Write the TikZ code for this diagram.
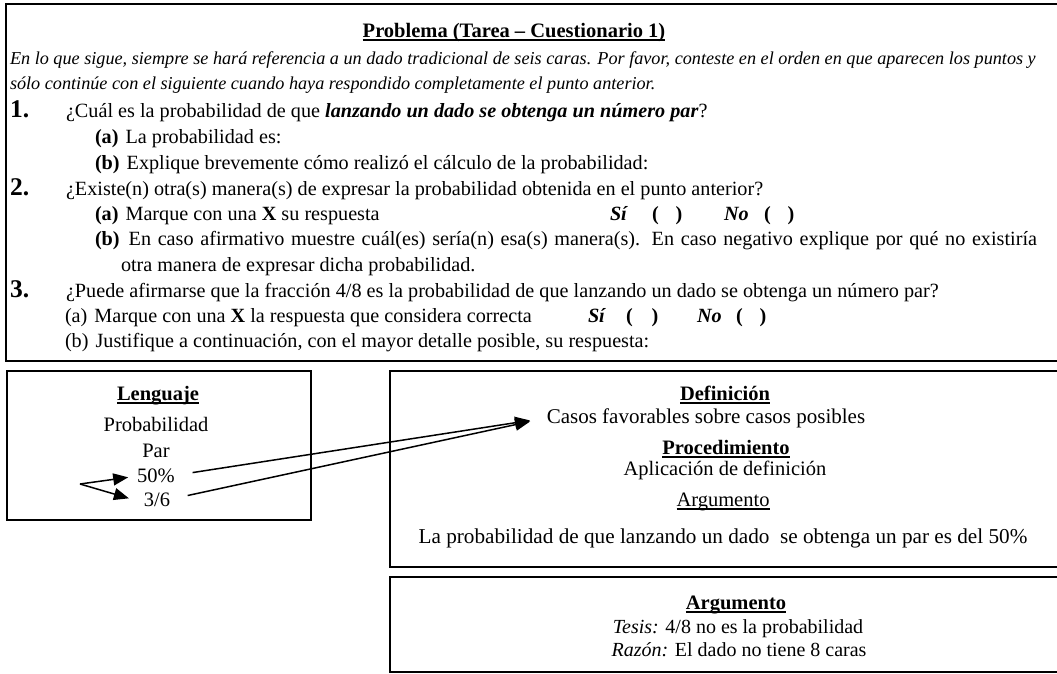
\documentclass[tikz,border=0pt]{standalone}
\usepackage{fontspec}
\setmainfont{Liberation Serif}
\usetikzlibrary{arrows.meta}
% underline drawn as a rule a little below the baseline
\newcommand{\undr}[1]{\leavevmode\setbox0\hbox{#1}\rlap{\vrule height -2.2pt depth 3.5pt width \wd0}\box0}
\begin{document}
\begin{tikzpicture}[x=1pt,y=-1pt,
  every node/.style={inner sep=0pt, outer sep=0pt},
  body/.style={anchor=base west, font=\fontsize{20.2}{23}\selectfont},
  choice/.style={anchor=base west, font=\fontsize{20.2}{23}\selectfont\bfseries},
  choiceit/.style={anchor=base west, font=\fontsize{20.2}{23}\selectfont\bfseries\itshape},
  intro/.style={anchor=base west, font=\fontsize{18.2}{21}\selectfont\itshape},
  num/.style={anchor=base west, font=\fontsize{25.5}{27}\selectfont\bfseries},
  ctr/.style={anchor=base, font=\fontsize{20.5}{23}\selectfont},
  head/.style={anchor=base, font=\fontsize{20.5}{23}\selectfont\bfseries},
  frame/.style={draw=black, line width=1.4pt},
  link/.style={line width=1.5pt, -{Triangle[length=15pt,width=12pt]}},
]
\useasboundingbox (0,0) rectangle (1057,673);
\clip (0,0) rectangle (1057,673);
\fill[white] (0,0) rectangle (1057,673);

% ---- frames ----
\draw[frame, line width=2pt] (6,4) rectangle (1070,361);
\draw[frame, line width=2.6pt] (6,4) -- (1070,4);
\draw[frame] (7,371) rectangle (311,520);
\draw[frame] (390,371) rectangle (1070,567);
\draw[frame] (390,577) rectangle (1070,672);

% ---- problem statement ----
\node[head] (title) at (514,37) {\undr{Problema (Tarea – Cuestionario 1)}};
\node[intro] (it1) at (10,64) {En lo que sigue, siempre se hará referencia a un dado tradicional de seis caras. Por favor, conteste en el orden en que aparecen los puntos y};
\node[intro] (it2) at (10,89) {sólo continúe con el siguiente cuando haya respondido completamente el punto anterior.};

\node[num] (n1) at (10,117) {1.};
\node[body] (q1) at (66,117) {¿Cuál es la probabilidad de que \textbf{\textit{lanzando un dado se obtenga un número par}}?};
\node[body] (q1a) at (95,143) {\textbf{(a)}\hspace{7pt}La probabilidad es:};
\node[body] (q1b) at (95,169) {\textbf{(b)}\hspace{7pt}Explique brevemente cómo realizó el cálculo de la probabilidad:};

\node[num] (n2) at (10,195) {2.};
\node[body] (q2) at (66,195) {¿Existe(n) otra(s) manera(s) de expresar la probabilidad obtenida en el punto anterior?};
\node[body] (q2a) at (95,220) {\textbf{(a)}\hspace{7pt}Marque con una \textbf{X} su respuesta};
\node[choiceit] (si2) at (610,220) {Sí};
\node[choice] (pa2) at (652,220) {(\hspace{17pt})};
\node[choiceit] (no2) at (724,220) {No};
\node[choice] (pb2) at (764,220) {(\hspace{17pt})};
\node[body] (q2b) at (95,245) {\hbox to 942pt{\textbf{(b)}\hspace{9pt}En caso afirmativo muestre cuál(es) sería(n) esa(s) manera(s). En caso negativo explique por qué no existiría}};
\node[body] (q2c) at (121,271) {otra manera de expresar dicha probabilidad.};

\node[num] (n3) at (10,297) {3.};
\node[body] (q3) at (66,297) {¿Puede afirmarse que la fracción 4/8 es la probabilidad de que lanzando un dado se obtenga un número par?};
\node[body] (q3a) at (65,322) {(a)\hspace{7pt}Marque con una \textbf{X} la respuesta que considera correcta};
\node[choiceit] (si3) at (588,322) {Sí};
\node[choice] (pa3) at (626,322) {(\hspace{19pt})};
\node[choiceit] (no3) at (697,322) {No};
\node[choice] (pb3) at (736,322) {(\hspace{17pt})};
\node[body] (q3b) at (65,347) {(b)\hspace{7pt}Justifique a continuación, con el mayor detalle posible, su respuesta:};

% ---- language box ----
\node[head] (leng) at (158,400) {\undr{Lenguaje}};
\node[ctr] (prob) at (156,431) {Probabilidad};
\node[ctr] (par) at (156,457) {Par};
\node[ctr] (p50) at (156,482) {50\%};
\node[ctr] (p36) at (157,506) {3/6};

% ---- definition / procedure / argument box ----
\node[head] (defi) at (725,400) {\undr{Definición}};
\node[ctr, font=\fontsize{21}{23}\selectfont] (casos) at (706,423) {Casos favorables sobre casos posibles};
\node[head] (proc) at (726,454) {\undr{Procedimiento}};
\node[ctr] (apli) at (725,475) {Aplicación de definición};
\node[ctr] (arg1) at (723,506) {\undr{Argumento}};
\node[ctr, font=\fontsize{21.2}{23}\selectfont] (concl) at (723,543) {La probabilidad de que lanzando un dado\ \ se obtenga un par es del 50\%};

% ---- second argument box ----
\node[head] (arg2) at (736,609) {\undr{Argumento}};
\node[ctr, font=\fontsize{20}{23}\selectfont] (tesis) at (738,633) {\textit{Tesis:} 4/8 no es la probabilidad};
\node[ctr, font=\fontsize{20}{23}\selectfont] (razon) at (739,656) {\textit{Razón:} El dado no tiene 8 caras};

% ---- arrows ----
\coordinate (fork) at (80,484);
\draw[link] (fork) -- ([xshift=-9pt,yshift=-2pt]p50.west);
\draw[link] (fork) -- ([xshift=-15pt,yshift=1pt]p36.west);
\draw[link, shorten <=18pt, shorten >=17pt] (p50.east) -- (casos.west);
\draw[link, shorten <=18pt, shorten >=17pt] (p36.east) -- (casos.west);
\end{tikzpicture}
\end{document}
